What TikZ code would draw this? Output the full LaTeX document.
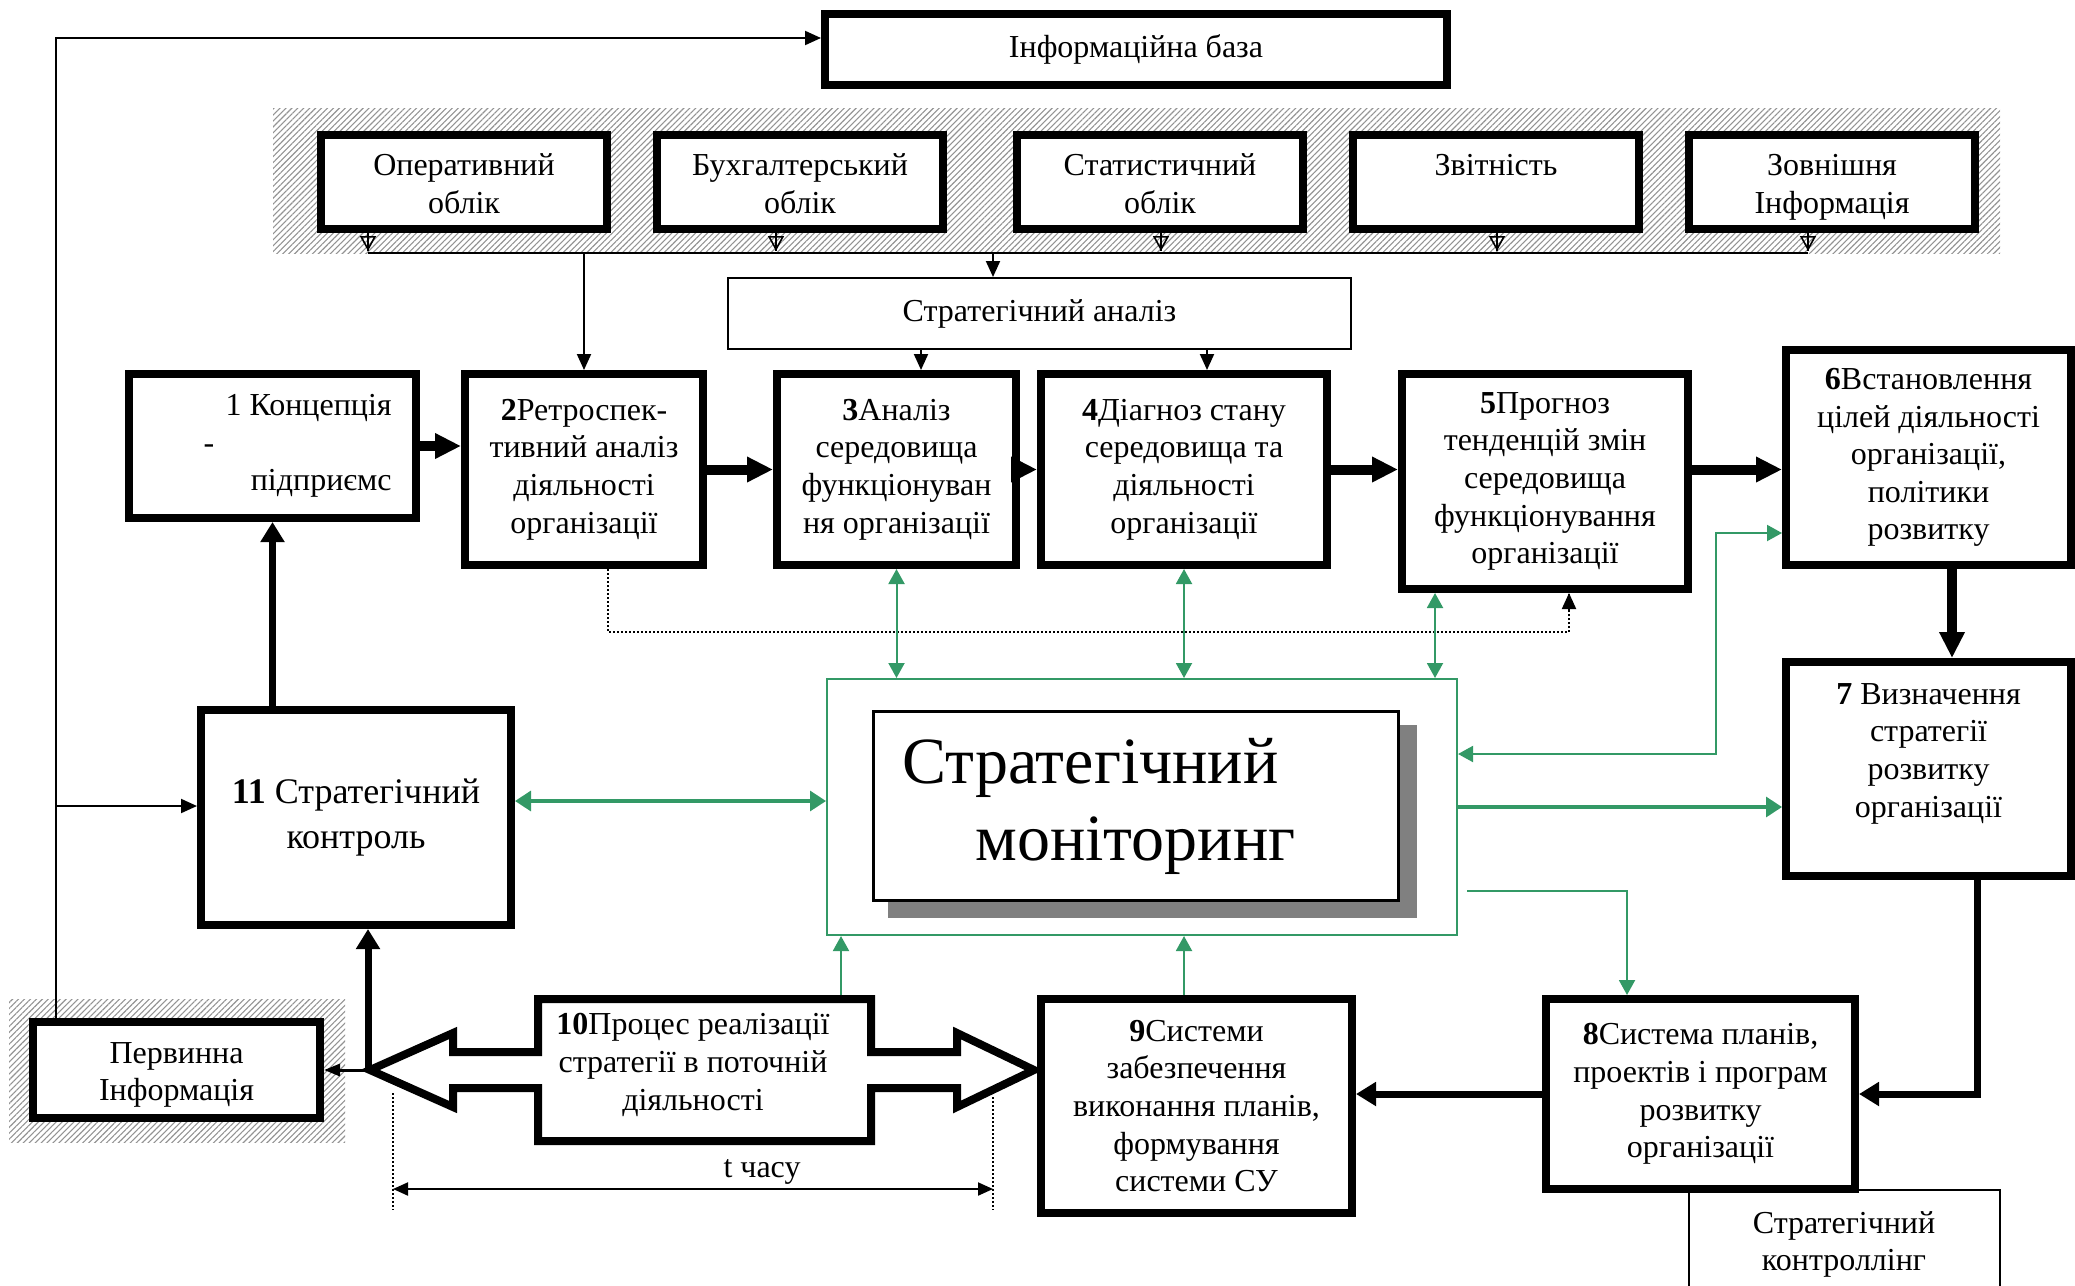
\documentclass[tikz,border=0pt]{standalone}
\usepackage{fontspec}
\setmainfont{Liberation Serif}
\usetikzlibrary{arrows.meta,patterns.meta,calc}
\definecolor{mgreen}{RGB}{51,153,102}
\newcommand\boxfont{\fontsize{16}{18.8}\selectfont}
\newcommand\bigboxfont{\fontsize{18}{22.5}\selectfont}
\newcommand\monfont{\fontsize{33}{38}\selectfont}
\begin{document}
\begin{tikzpicture}[x=0.5pt,y=-0.5pt,
  box/.style={draw, line width=4pt, fill=white, align=center, font=\boxfont, inner sep=1pt},
  topbox/.style={box, minimum width=143pt, minimum height=47pt},
  boxtext/.style={font=\boxfont, align=center, inner sep=0pt},
  thinbox/.style={draw, line width=1pt, fill=white, align=center, font=\boxfont, inner sep=1pt},
  hatch/.style={pattern={Lines[angle=45,distance=2.1pt,line width=0.55pt]}, pattern color=gray!85},
  bigarr/.style={line width=5pt, -{Triangle[length=13pt,width=12pt]}},
  medarr/.style={line width=3.5pt, -{Triangle[length=10pt,width=11.5pt]}},
  thinarr/.style={line width=1pt, -{Triangle[length=8pt,width=7pt]}},
  smallarr/.style={line width=1.5pt, -{Triangle[length=8pt,width=6pt]}},
  openarr/.style={line width=0.8pt, -{Triangle[open,length=7.5pt,width=8pt]}},
  thinline/.style={line width=1pt},
  dotline/.style={line width=0.8pt, dash pattern=on 1pt off 1pt},
  garr/.style={draw=mgreen, line width=1pt, -{Triangle[length=7.5pt,width=8pt]}},
  garrtwo/.style={draw=mgreen, line width=1pt, {Triangle[length=7.5pt,width=8pt]}-{Triangle[length=7.5pt,width=8pt]}},
  gthick/.style={draw=mgreen, line width=1.6pt, -{Triangle[length=8pt,width=10pt]}},
  gthicktwo/.style={draw=mgreen, line width=1.6pt, {Triangle[length=8pt,width=10pt]}-{Triangle[length=8pt,width=10pt]}}
]
\useasboundingbox (0,0) rectangle (2075,1285);

% hatched backgrounds of the information sources
\fill[hatch] (273,108) rectangle (2000,253);
\fill[hatch] (9,999) rectangle (345,1142);

% information base and its sources
\node[box, minimum width=311pt, minimum height=35.5pt] (info) at (1136,49.5) {Інформаційна база};
\node[topbox] (op) at (464,182) {};
\node[topbox] (bu) at (800,182) {};
\node[topbox] (st) at (1160,182) {};
\node[topbox] (zv) at (1496,182) {};
\node[topbox] (zo) at (1832,182) {};
\node[boxtext, anchor=base] (opT) at (464,213) {Оперативний\strut\\облік\strut};
\node[boxtext, anchor=base] (buT) at (800,213) {Бухгалтерський\strut\\облік\strut};
\node[boxtext, anchor=base] (stT) at (1160,213) {Статистичний\strut\\облік\strut};
\node[boxtext, anchor=base] (zvT) at (1496,213) {Звітність\strut\\\strut};
\node[boxtext, anchor=base] (zoT) at (1832,213) {Зовнішня\strut\\Інформація\strut};

\node[thinbox, minimum width=311.5pt, minimum height=35.5pt] (an) at (1039.5,313.5) {Стратегічний аналіз};

% collector line under the sources
\coordinate (colL) at (368,253);
\coordinate (colR) at (1808,253);
\draw[thinline] (colL) -- (colR);
\foreach \px/\src in {368/op, 776/bu, 1161/st, 1497/zv, 1808/zo}{
  \draw[thinline] (\px,0 |- \src.south) -- (\px,251);
  \draw[openarr] (\px,0 |- \src.south) -- (\px,251);
}

% main chain of stages
\node[box, minimum width=143.5pt, minimum height=72pt] (b1) at (272.5,446) {};
\node[font=\boxfont, align=right, anchor=east, inner sep=0pt] (b1t) at (392,446) {1 Концепція\\\makebox[94pt][l]{-}\\підприємс};
\node[box, minimum width=119pt, minimum height=95.5pt] (b2) at (584,469.5) {\textbf{2}Ретроспек-\\тивний аналіз\\діяльності\\організації};
\node[box, minimum width=119.5pt, minimum height=95.5pt] (b3) at (896.5,469.5) {\textbf{3}Аналіз\\середовища\\функціонуван\\ня організації};
\node[box, minimum width=143pt, minimum height=95.5pt] (b4) at (1184,469.5) {\textbf{4}Діагноз стану\\середовища та\\діяльності\\організації};
\node[box, minimum width=143pt, minimum height=107.5pt] (b5) at (1545,481.5) {\textbf{5}Прогноз\\тенденцій змін\\середовища\\функціонування\\організації};
\node[box, minimum width=142.5pt, minimum height=107.5pt] (b6) at (1928.5,457.5) {\textbf{6}Встановлення\\цілей діяльності\\організації,\\політики\\розвитку};
\node[box, minimum width=142.5pt, minimum height=107pt] (b7) at (1928.5,769) {\textbf{7} Визначення\\стратегії\\розвитку\\організації\\\mbox{}};
\node[thinbox, minimum width=155.5pt, minimum height=70pt] (ctrl) at (1844,1260) {Стратегічний\\контроллінг\\\mbox{}};
\node[box, minimum width=154.5pt, minimum height=95pt] (b8) at (1700.5,1094) {\textbf{8}Система планів,\\проектів і програм\\розвитку\\організації};
\node[box, minimum width=155.5pt, minimum height=107pt] (b9) at (1196.5,1106) {\textbf{9}Системи\\забезпечення\\виконання планів,\\формування\\системи СУ};
\node[box, font=\bigboxfont, minimum width=155pt, minimum height=107.5pt] (b11) at (356,817.5) {\textbf{11} Стратегічний\\контроль};
\node[box, minimum width=143.5pt, minimum height=48pt] (perv) at (176.5,1070) {};
\node[boxtext] (pervT) at (176.5,1075) {Первинна\\Інформація};

% stage 10: double block arrow
\draw[line width=4pt, fill=white, miter limit=25]
  (538,999) -- (871,999) -- (871,1052) -- (957,1052) -- (957,1033) -- (1034,1070)
  -- (957,1107) -- (957,1088) -- (871,1088) -- (871,1141) -- (538,1141) -- (538,1088)
  -- (453,1088) -- (453,1107) -- (370,1070) -- (453,1033) -- (453,1052) -- (538,1052) -- cycle;
\node[font=\boxfont, align=center] (b10) at (693,1065) {\textbf{10}Процес реалізації\\стратегії в поточній\\діяльності};
\coordinate (tipL) at (368,1070);
\coordinate (b10top) at (841,995);

% strategic monitoring block
\node[draw=mgreen, line width=1pt, minimum width=315pt, minimum height=128pt] (frame) at (1142,807) {};
\fill[gray] (888,725) rectangle (1417,918);
\node[draw, line width=1.5pt, fill=white, minimum width=262.5pt, minimum height=94.5pt] (mon) at (1136,806) {};
\node[font=\monfont, anchor=base west, inner sep=0pt] (monA) at (902,783) {Стратегічний};
\node[font=\monfont, anchor=base west, inner sep=0pt] (monB) at (975,860) {моніторинг};

% information flows
\draw[thinarr] (colL -| b2.north) -- (b2.north);
\draw[thinarr] (993,253) -- (993,0 |- an.north);
\draw[thinarr] (921,0 |- an.south) -- (921,0 |- b3.north);
\draw[thinarr] (1207,0 |- an.south) -- (1207,0 |- b4.north);

\coordinate (lpTop) at (56,38);
\coordinate (lpMid) at (56,806);
\draw[thinarr] (lpTop |- perv.north) -- (lpTop) -- (lpTop -| info.west);
\draw[thinarr] (lpMid) -- (lpMid -| b11.west);

% main flow arrows
\draw[bigarr] (b1.east) -- (b1.east -| b2.west);
\draw[bigarr] (b2.east) -- (b2.east -| b3.west);
\draw[bigarr] (b3.east) -- (b3.east -| b4.west);
\draw[bigarr] (b4.east) -- (b4.east -| b5.west);
\draw[bigarr] (b5.east |- b4.east) -- (b4.east -| b6.west);
\draw[bigarr] (1952,0 |- b6.south) -- (1952,0 |- b7.north);
\draw[medarr] (1977,0 |- b7.south) |- (b8.east);
\draw[medarr] (b8.west) -- (b8.west -| b9.east);
\draw[medarr] (b1.south |- b11.north) -- (b1.south);
\draw[medarr] (tipL) -- (tipL |- b11.south);
\draw[smallarr] (tipL) -- (perv.east);

% dotted feedback from stage 2 to stage 5
\draw[dotline] (608,0 |- b2.south) -- (608,632) -- (1569,632) -- (1569,0 |- b5.south);
\draw[thinarr] (1569,610) -- (1569,0 |- b5.south);

% monitoring links
\draw[garrtwo] (b3.south) -- (b3.south |- frame.north);
\draw[garrtwo] (b4.south) -- (b4.south |- frame.north);
\draw[garrtwo] (1435,0 |- b5.south) -- (1435,0 |- frame.north);
\draw[gthicktwo] (b11.east |- 0,801) -- (frame.west |- 0,801);
\draw[gthick] (frame.east) -- (frame.east -| b7.west);
\draw[garrtwo] (frame.east |- 0,754) -- (1716,754) -- (1716,533) -- (b6.west |- 0,533);
\draw[garr] (1467,891) -- (1627,891) -- (1627,0 |- b8.north);
\draw[garr] (b10top) -- (b10top |- frame.south);
\draw[garr] (1184,0 |- b9.north) -- (1184,0 |- frame.south);

% time span of stage 10
\coordinate (tL) at (393,1189);
\coordinate (tR) at (993,1189);
\draw[dotline] (393,1093) -- (393,1210);
\draw[dotline] (993,1097) -- (993,1210);
\draw[line width=1pt, {Triangle[length=7.5pt,width=6.5pt]}-{Triangle[length=7.5pt,width=6.5pt]}] (tL) -- (tR);
\node[font=\boxfont] (tlabel) at (762,1172) {t часу};
\end{tikzpicture}
\end{document}
